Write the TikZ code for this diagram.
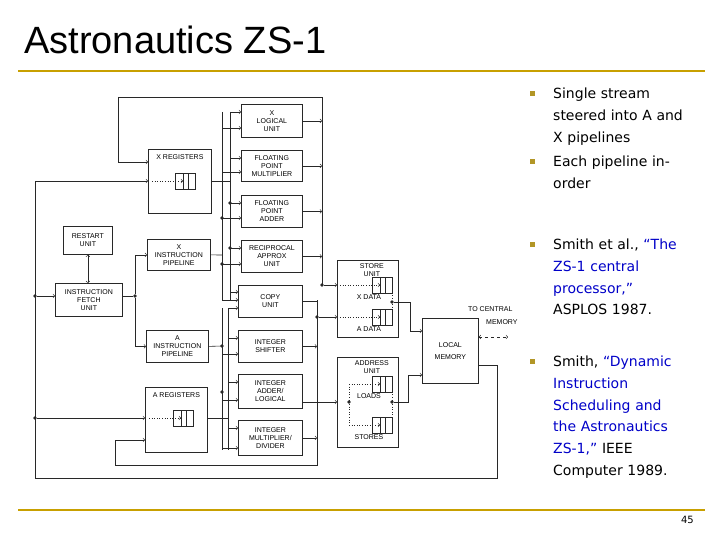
\documentclass[tikz,border=0pt]{standalone}
\usepackage{fontspec}
\setmainfont{DejaVu Sans}
\newfontfamily\titlefont{Liberation Sans}
\newfontfamily\labelfont{Liberation Sans}
\usetikzlibrary{calc}
\definecolor{gold}{RGB}{200,160,0}
\definecolor{cite}{RGB}{0,0,200}
\definecolor{ink}{RGB}{40,40,40}
\tikzset{
  unit/.style 2 args={draw=ink, line width=.8pt, anchor=north west, inner sep=0pt,
    minimum width=#1pt, minimum height=#2pt, align=center,
    font=\labelfont\fontsize{7}{8}\selectfont},
  lbl/.style={font=\labelfont\fontsize{7}{8}\selectfont, inner sep=0pt, align=center},
  wire/.style={draw=ink, line width=.6pt},
  arr/.style={wire, ->, >=to},
  dot/.style={fill=ink, circle, inner sep=1.3pt},
  bullet/.style={fill=gold!70!gray, inner sep=0pt, minimum size=5pt, anchor=north west},
  txt/.style={anchor=north west, inner sep=0pt, align=left, text width=170pt,
    font=\fontsize{14}{21.7}\selectfont}
}
% small register queue
\newcommand{\regqueue}[2]{%
  \draw[ink, line width=.6pt] (#1,#2) rectangle ++(20,-16)
    (#1+8,#2) -- ++(0,-16) (#1+13,#2) -- ++(0,-16);}
\begin{document}
\begin{tikzpicture}[x=1pt,y=-1pt]
  \useasboundingbox (0,0) rectangle (720,540);
  % title and rules
  \node[anchor=west, inner sep=0pt, font=\titlefont\fontsize{38}{40}\selectfont] (title) at (24,40) {Astronautics ZS-1};
  \draw[gold, line width=2.5pt] (18,71) -- (705,71);
  \draw[gold, line width=2.5pt] (18,510) -- (705,510);
  \node[anchor=east, inner sep=0pt, font=\fontsize{10}{12}\selectfont] (page) at (694,520) {45};

  % bullets
  \node[bullet] (b1) at (530,91) {};
  \node[txt] (t1) at (553,88) {Single stream\\steered into A and\\X pipelines};
  \node[bullet] (b2) at (530,159) {};
  \node[txt] (t2) at (553,156) {Each pipeline in-\\order};
  \node[bullet] (b3) at (530,242) {};
  \node[txt] (t3) at (553,239) {Smith et al., \textcolor{cite}{“The\\ZS-1 central\\processor,”}\\ASPLOS 1987.};
  \node[bullet] (b4) at (530,359) {};
  \node[txt] (t4) at (553,356) {Smith, \textcolor{cite}{“Dynamic\\Instruction\\Scheduling and\\the Astronautics\\ZS-1,”} IEEE\\Computer 1989.};

  % functional units
  \node[unit={61}{33}] (xlog) at (241,104) {X\\LOGICAL\\UNIT};
  \node[unit={61}{31}] (fpm) at (241,150) {FLOATING\\POINT\\MULTIPLIER};
  \node[unit={61}{32}] (fpa) at (241,195) {FLOATING\\POINT\\ADDER};
  \node[unit={61}{32}] (rcp) at (241,240) {RECIPROCAL\\APPROX\\UNIT};
  \node[unit={64}{32}] (copy) at (238,285) {COPY\\UNIT};
  \node[unit={64}{32}] (ishf) at (238,330) {INTEGER\\SHIFTER};
  \node[unit={64}{34}] (iadd) at (238,374) {INTEGER\\ADDER/\\LOGICAL};
  \node[unit={64}{35}] (imul) at (238,420) {INTEGER\\MULTIPLIER/\\DIVIDER};

  % control side
  \node[unit={63}{64}] (xreg) at (148,149) {};
  \node[lbl, anchor=north] at ($(xreg.north)+(0,5)$) {X REGISTERS};
  \node[unit={49}{28}] (rst) at (63,226) {RESTART\\UNIT};
  \node[unit={63}{31}] (xpipe) at (147,239) {X\\INSTRUCTION\\PIPELINE};
  \node[unit={67}{33}] (fetch) at (55,283) {INSTRUCTION\\FETCH\\UNIT};
  \node[unit={62}{32}] (apipe) at (146,330) {A\\INSTRUCTION\\PIPELINE};
  \node[unit={62}{65}] (areg) at (145,387) {};
  \node[lbl, anchor=north] at ($(areg.north)+(0,5)$) {A REGISTERS};

  % memory side
  \node[unit={61}{77}] (store) at (337,260) {};
  \node[lbl, anchor=north] at ($(store.north)+(4,3)$) {STORE\\UNIT};
  \node[unit={61}{90}] (addr) at (337,357) {};
  \node[lbl, anchor=north] at ($(addr.north)+(4,3)$) {ADDRESS\\UNIT};
  \node[unit={56}{65}] (lmem) at (422,318) {LOCAL\\[4pt]MEMORY};
  \node[lbl, anchor=west] (tocm) at (468,309) {TO CENTRAL};
  \node[lbl, anchor=west] (tcmem) at (486,322) {MEMORY};
  \coordinate (ext) at (508,337);
  \draw[arr, <->, dashed] (lmem.east |- ext) -- (ext);

  % register queues
  \regqueue{175}{189}\draw[wire, dotted, ->] (152,181) -- (183,181);
  \regqueue{173}{426}\draw[wire, dotted, ->] (149,418) -- (181,418);
  \regqueue{372}{293}\draw[wire, dotted, ->] (340,285) -- (380,285);
  \regqueue{372}{325}\draw[wire, dotted, ->] (340,317) -- (380,317);
  \regqueue{372}{392}\draw[wire, dotted, ->] (349,384) -- (380,384);
  \regqueue{372}{433}\draw[wire, dotted, ->] (349,425) -- (380,425);
  \node[lbl] at (369,297) {X DATA};
  \node[lbl] at (369,329) {A DATA};
  \node[lbl] at (369,396) {LOADS};
  \node[lbl] at (369,437) {STORES};

  % fetch and restart
  \draw[arr, <->] (rst.south) -- (fetch.north -| rst.south);
  \node[dot] (fdot) at (135,296) {};
  \draw[wire] (fetch.east |- fdot) -- (fdot);
  \draw[arr] (fdot) |- (xpipe.west);
  \draw[arr] (fdot) |- (apipe.west);

  % result loop from local memory
  \coordinate (lmr) at (497,365);
  \coordinate (lmb) at (497,478);
  \coordinate (lb) at (35,478);
  \node[dot] (ldot1) at (35,296) {};
  \node[dot] (ldot2) at (35,418) {};
  \draw[wire] (lmem.east |- lmr) -- (lmr) -- (lmb) -- (lb) -- (35,181);
  \draw[arr] (35,181) -- (xreg.west |- 35,181);
  \draw[arr] (ldot1) -- (fetch.west |- ldot1);
  \draw[arr] (ldot2) -- (areg.west |- ldot2);

  % result buses
  \draw[wire] (322,285) -- (322,97) -- (118,97);
  \draw[arr] (118,97) |- (xreg.west |- 0,162);
  \draw[wire] (317,300) -- (317,465) -- (115,465);
  \draw[arr] (115,465) |- (areg.west |- 0,440);
  \foreach \u in {xlog,fpm,fpa,rcp}
    \draw[arr] (\u.east) -- (\u.east -| 322,0);
  \foreach \u in {ishf,imul}
    \draw[arr] (\u.east) -- (\u.east -| 317,0);
  \draw[wire] (copy.east) -| (317,300);
  \node[dot] (xsd) at (322,285) {};
  \node[dot] (asd) at (317,317) {};
  \draw[arr] (xsd) -- (store.west |- xsd);
  \draw[arr] (asd) -- (store.west |- asd);

  % operand buses
  \draw[wire] (xreg.east |- 0,181) -- (230,181);
  \draw[wire] (230,112) -- (230,300);
  \draw[wire] (xpipe.east) -- (222,255);
  \draw[wire] (222,112) -- (222,300);
  \foreach \u/\y in {xlog/112,fpm/158,fpa/203,rcp/248,copy/292}
    \draw[arr] (230,\y) -- (\u.west |- 0,\y);
  \foreach \u/\y in {xlog/128,fpm/172,fpa/218,rcp/264,copy/300}
    \draw[arr] (222,\y) -- (\u.west |- 0,\y);
  \node[dot] at (230,203) {};
  \node[dot] at (222,218) {};
  \node[dot] at (230,248) {};
  \node[dot] at (222,264) {};
  \draw[wire] (apipe.east) -- (222,346);
  \draw[wire] (222,308) -- (222,450);
  \draw[wire] (areg.east |- 0,418) -- (228,418);
  \draw[wire] (228,308) -- (228,450);
  \node[dot] at (222,346) {};
  \node[dot] at (222,392) {};
  \foreach \u/\y in {copy/308,ishf/338,iadd/382,imul/428}
    \draw[arr] (228,\y) -- (\u.west |- 0,\y);
  \foreach \u/\y in {ishf/354,iadd/400,imul/448}
    \draw[arr] (222,\y) -- (\u.west |- 0,\y);

  % store and address unit outputs
  \node[dot] (sdot) at (392,302) {};
  \draw[wire, dotted] (392,285) -- (sdot) -- (392,317);
  \draw[arr] (sdot) -- (410,302) |- (lmem.west |- 0,331);
  \draw[arr] (iadd.east |- 0,402) -- (addr.west |- 0,402);
  \node[dot] (adl) at (349,402) {};
  \draw[wire, dotted] (349,384) -- (adl) -- (349,425);
  \node[dot] (adr) at (392,402) {};
  \draw[wire, dotted] (392,384) -- (adr) -- (392,425);
  \draw[arr] (adr) -- (408,402) |- (lmem.west |- 0,375);
\end{tikzpicture}
\end{document}
